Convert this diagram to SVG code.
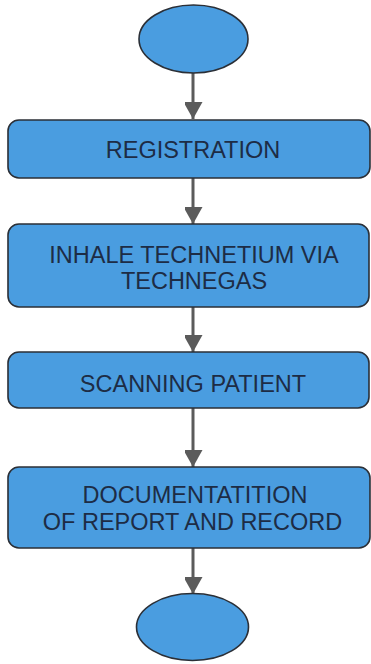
<svg xmlns="http://www.w3.org/2000/svg" width="371" height="664" viewBox="0 0 371 664">
<style>
.shape{fill:#4a9de0;stroke:#2b2f36;stroke-width:1.6}
.lbl{font-family:"Liberation Sans",Arial,sans-serif;font-size:23.5px;fill:#1d2c45;text-anchor:middle}
.conn{stroke:#5b5b5b;stroke-width:3;fill:none}
</style>
<defs>
<marker id="ah" markerUnits="userSpaceOnUse" markerWidth="20" markerHeight="18" refX="17" refY="9.5" orient="auto">
<path d="M0,0 L17,9.5 L0,19 Z" fill="#5b5b5b"/>
</marker>
</defs>
<rect width="371" height="664" fill="#ffffff"/>
<g id="connectors">
<line class="conn" x1="193" y1="73" x2="193" y2="119" marker-end="url(#ah)"/>
<line class="conn" x1="193" y1="178" x2="193" y2="224" marker-end="url(#ah)"/>
<line class="conn" x1="193" y1="307" x2="193" y2="352" marker-end="url(#ah)"/>
<line class="conn" x1="193" y1="408" x2="193" y2="467" marker-end="url(#ah)"/>
<line class="conn" x1="193" y1="548" x2="193" y2="594" marker-end="url(#ah)"/>
</g>
<g id="start">
<ellipse class="shape" cx="193.5" cy="39" rx="54.5" ry="34"/>
</g>
<g id="registration">
<rect class="shape" x="8" y="120" width="362" height="58" rx="11"/>
<text class="lbl" x="193" y="157.5">REGISTRATION</text>
</g>
<g id="inhale">
<rect class="shape" x="8" y="224" width="361" height="83" rx="11"/>
<text class="lbl"><tspan x="194" y="263">INHALE TECHNETIUM VIA</tspan><tspan x="194" y="288.5">TECHNEGAS</tspan></text>
</g>
<g id="scanning">
<rect class="shape" x="8" y="352" width="361" height="56" rx="11"/>
<text class="lbl" x="193" y="391.5">SCANNING PATIENT</text>
</g>
<g id="documentation">
<rect class="shape" x="8" y="467" width="362" height="81" rx="11"/>
<text class="lbl"><tspan x="195" y="503">DOCUMENTATITION</tspan><tspan x="192.5" y="530">OF REPORT AND RECORD</tspan></text>
</g>
<g id="end">
<ellipse class="shape" cx="192.5" cy="627" rx="56" ry="33.5"/>
</g>
</svg>
